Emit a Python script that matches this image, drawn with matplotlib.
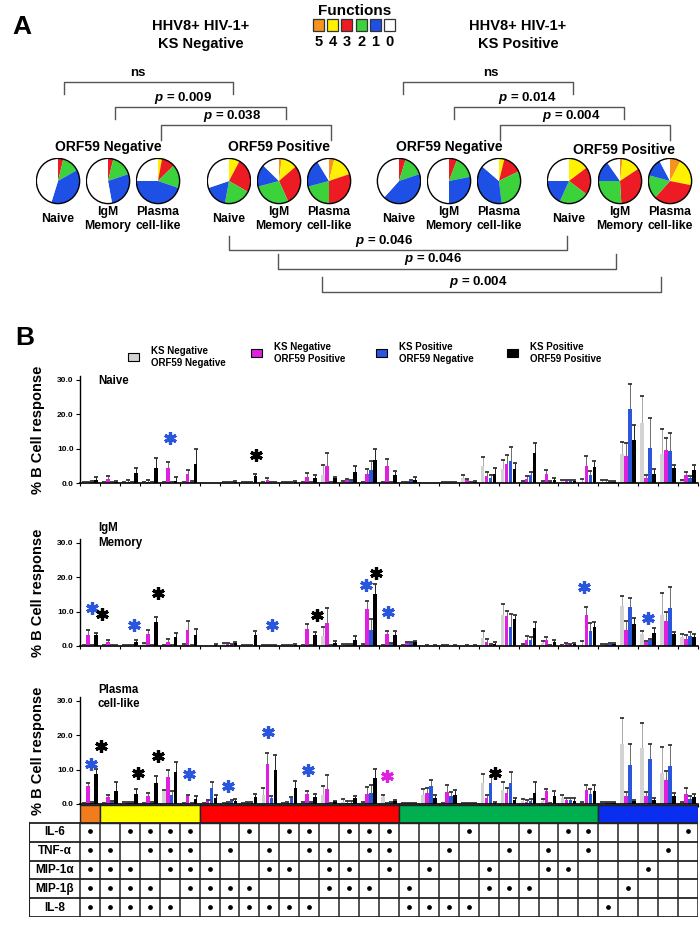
import numpy as np
import matplotlib
matplotlib.use("Agg")
import matplotlib.pyplot as plt
import matplotlib.font_manager as fm
from matplotlib.patches import Rectangle, Circle

names = {f.name for f in fm.fontManager.ttflist}
base = 'Liberation Sans Narrow' if 'Liberation Sans Narrow' in names else 'Liberation Sans'
plt.rcParams['font.family'] = [base, 'DejaVu Sans']
plt.rcParams['font.weight'] = 'bold'
plt.rcParams['mathtext.fontset'] = 'custom'
plt.rcParams['mathtext.it'] = base + ':italic:bold'
plt.rcParams['mathtext.rm'] = base + ':bold'

# ---------------- data ----------------
func_levels = ['5', '4', '3', '2', '1', '0']
func_colors = ['#F7941D', '#FFF200', '#ED1C24', '#3CD23C', '#1E50E6', '#FFFFFF']
bar_func_colors = {5: '#F07C1E', 4: '#FFFF00', 3: '#FF0000', 2: '#00B050', 1: '#0A2EF0'}

cell_types = ['Naive', 'IgM\nMemory', 'Plasma\ncell-like']
# pie fractions, order of functions 5,4,3,2,1,0
ksneg_orfneg = [[0, 0, 0.04, 0.13, 0.38, 0.45],
                [0, 0, 0.04, 0.16, 0.27, 0.53],
                [0, 0.03, 0.10, 0.17, 0.45, 0.25]]
ksneg_orfpos = [[0, 0.08, 0.25, 0.20, 0.17, 0.30],
                [0.02, 0.12, 0.29, 0.28, 0.16, 0.13],
                [0.04, 0.16, 0.30, 0.21, 0.20, 0.09]]
kspos_orfneg = [[0, 0, 0.05, 0.15, 0.42, 0.38],
                [0, 0, 0.06, 0.16, 0.28, 0.50],
                [0, 0.04, 0.14, 0.30, 0.38, 0.14]]
kspos_orfpos = [[0, 0.15, 0.20, 0.22, 0.18, 0.25],
                [0.02, 0.14, 0.33, 0.26, 0.15, 0.10],
                [0.08, 0.20, 0.34, 0.17, 0.13, 0.08]]

series_names = ['KS Negative\nORF59 Negative', 'KS Negative\nORF59 Positive',
                'KS Positive\nORF59 Negative', 'KS Positive\nORF59 Positive']
series_colors = ['#D3D3D3', '#E020E0', '#2A55DD', '#000000']
err_colors = ['#9A9A9A', '#555555', '#555555', '#000000']

# Naive
naive_grey = [0.1,0.1,0.1,0.1,0.1,0.1,0.0,0.1,0.1,0.1,0.2,0.1,2.4,0.3,0.2,0.2,0.1,0.0,0.1,1.4,4.8,4.0,0.2,0.3,0.5,0.3,0.2,8.5,17.3,8.5,0.5]
naive_mag  = [0.1,1.1,0.3,0.3,4.4,2.6,0.0,0.1,0.2,1.0,0.2,1.6,5.0,0.8,2.5,5.0,0.2,0.0,0.1,0.9,1.9,5.5,1.3,2.6,0.5,5.0,0.2,7.8,1.5,9.5,2.2]
naive_blue = [0.3,0.1,0.2,0.1,0.1,0.3,0.0,0.1,0.2,0.1,0.1,0.1,0.1,0.6,3.8,0.1,0.6,0.0,0.2,0.2,1.5,6.3,2.4,0.3,0.5,2.2,0.3,21.4,10.2,9.4,1.5]
naive_blk  = [1.0,0.3,2.8,4.4,0.7,5.5,0.0,0.2,1.9,0.1,0.2,1.5,1.4,3.1,6.8,2.2,1.0,0.0,0.1,0.3,2.7,4.0,8.6,0.9,0.7,4.6,0.3,12.4,2.5,4.3,3.8]
naive_grey_err = [0.2,0.2,0.2,0.2,0.2,0.2,0,0.2,0.2,0.2,0.2,0.2,2.7,0.3,0.2,0.2,0.2,0,0.2,1.0,2.7,2.8,0.3,0.3,0.3,0.9,0.6,3.5,7.9,7.1,0.3]
naive_mag_err  = [0.2,0.8,0.6,0.6,1.6,1.2,0,0.2,0.2,0.4,0.2,1.2,3.6,0.5,1.7,2.0,0.2,0,0.2,0.3,1.3,2.5,0.7,1.1,0.3,2.9,0.6,3.7,0.9,3.5,1.0]
naive_blue_err = [0.2,0.2,0.2,0.2,0.2,0.2,0,0.2,0.2,0.2,0.2,0.2,0.2,0.3,2.6,0.2,0.3,0,0.2,0.2,0.9,4.0,0.8,0.3,0.3,1.4,0.3,7.3,8.6,5.2,0.6]
naive_blk_err  = [0.7,0.3,1.5,2.8,0.9,4.4,0,0.3,0.8,0.2,0.3,0.9,0.3,1.7,3.1,1.4,0.6,0,0.2,0.3,1.6,1.7,3.1,0.5,0.3,1.7,0.3,4.4,1.7,1.0,1.3]

# IgM Memory
igm_grey = [0.1,0.1,0.1,0.7,0.1,0.3,0.0,0.5,0.1,0.1,0.1,0.1,2.9,0.3,0.3,0.1,0.2,0.0,0.1,0.0,2.3,9.1,0.3,0.8,0.1,0.3,0.2,11.5,3.5,8.9,2.6]
igm_mag  = [3.3,1.1,0.1,3.5,1.3,4.5,0.0,0.5,0.2,0.1,0.2,5.0,6.6,0.3,10.6,3.5,0.8,0.1,0.1,0.1,1.3,8.6,1.7,1.6,0.5,8.9,0.3,4.5,1.2,7.3,1.9]
igm_blue = [0.1,0.1,0.1,0.2,0.2,0.1,0.0,0.3,0.1,0.1,0.1,0.1,0.1,0.3,4.5,0.5,0.8,0.0,0.0,0.0,0.3,5.5,1.7,0.2,0.3,4.3,0.5,11.2,1.6,11.0,3.0]
igm_blk  = [3.1,0.1,1.3,7.1,2.6,3.1,0.3,0.8,3.1,0.2,0.4,3.2,1.0,1.6,15.2,3.1,1.1,0.1,0.1,0.1,0.7,7.7,5.1,1.2,0.6,5.5,0.6,6.4,3.8,3.4,2.5]
igm_grey_err = [0.2,0.2,0.2,0.3,0.2,0.3,0,0.3,0.2,0.2,0.2,0.2,2.6,0.3,0.3,0.2,0.2,0,0.2,0,2.0,3.0,0.3,0.7,0.2,1.2,0.3,3.0,0.8,6.5,1.0]
igm_mag_err  = [1.2,0.6,0.2,1.0,0.7,2.7,0,0.3,0.2,0.2,0.2,1.5,4.5,0.3,2.5,0.8,0.4,0.2,0.2,0.2,0.7,1.5,1.2,1.0,0.3,2.3,0.3,2.7,0.3,2.7,1.4]
igm_blue_err = [0.2,0.2,0.2,0.2,0.2,0.2,0,0.3,0.2,0.2,0.2,0.2,0.2,0.3,3.2,0.3,0.5,0,0,0,0.3,3.7,1.0,0.2,0.3,2.5,0.3,2.8,0.4,6.1,1.1]
igm_blk_err  = [0.8,0.2,0.3,1.4,1.3,1.8,0.3,0.4,1.2,0.2,0.3,0.8,0.5,1.4,2.7,1.2,0.3,0.2,0.2,0.2,0.4,1.2,2.0,0.4,0.4,1.6,0.3,1.7,1.3,0.8,0.9]

# Plasma cell-like
pl_grey = [0.1,0.1,0.3,0.1,3.7,0.2,0.1,0.2,0.1,2.6,0.2,0.3,2.6,0.6,0.3,2.0,0.2,2.7,0.2,0.2,6.1,4.2,0.8,0.8,1.8,0.3,0.3,17.5,16.3,9.1,0.3]
pl_mag  = [5.2,2.0,0.4,2.2,7.9,2.3,0.9,0.4,0.3,11.6,0.3,3.0,4.4,0.3,3.0,0.2,0.2,3.3,3.4,0.2,1.7,3.3,0.7,3.7,1.2,4.1,0.3,2.4,2.4,6.9,2.8]
pl_blue = [0.3,0.5,0.4,0.3,2.5,0.2,4.5,0.8,0.3,1.7,1.6,0.3,0.2,0.4,3.3,0.3,0.2,5.3,2.3,0.2,6.0,6.1,1.0,0.2,1.2,2.9,0.3,11.2,12.9,10.9,1.4]
pl_blk  = [8.8,3.7,2.9,6.0,9.4,1.5,1.7,1.0,1.9,10.0,4.5,2.1,0.8,1.7,7.5,0.8,0.2,1.8,2.7,0.2,0.3,1.2,3.3,2.2,1.0,3.7,0.3,0.8,1.2,2.4,2.1]
pl_grey_err = [0.2,0.2,0.3,0.2,0.5,0.2,0.2,0.2,0.2,1.9,0.2,0.3,2.7,0.8,0.3,0.7,0.2,1.6,0.2,0.2,2.7,2.1,0.6,0.6,0.9,0.2,0.2,7.4,7.2,7.4,0.3]
pl_mag_err  = [1.0,0.7,0.3,0.9,2.0,0.4,0.2,0.3,0.3,3.1,0.3,0.7,3.9,0.6,1.8,0.2,0.2,1.3,2.1,0.2,0.8,1.3,0.6,0.6,0.4,1.5,0.2,1.0,1.0,2.8,1.7]
pl_blue_err = [0.3,0.3,0.3,0.3,1.3,0.2,2.0,0.3,0.3,0.6,0.4,0.3,0.2,0.4,2.2,0.3,0.2,1.8,1.2,0.2,1.7,3.2,0.4,0.2,0.4,1.5,0.2,6.1,4.5,6.1,0.8]
pl_blk_err  = [1.4,2.6,1.4,2.0,2.9,0.7,0.8,0.5,0.9,4.2,2.1,0.8,0.2,0.6,2.7,0.4,0.2,0.7,1.5,0.2,0.3,0.5,3.1,1.5,0.6,1.9,0.2,0.3,0.6,0.7,0.9]

# significance asterisks: (x position in category units, y value, colour)
naive_stars = [(4.02, 13.0, '#2A55DD'), (8.34, 8.2, '#000000')]
igm_stars = [(0.10, 11.0, '#2A55DD'), (0.61, 9.3, '#000000'), (2.21, 6.0, '#2A55DD'),
             (3.42, 15.5, '#000000'), (9.15, 6.0, '#2A55DD'), (11.41, 9.0, '#000000'),
             (13.87, 17.8, '#2A55DD'), (14.37, 21.3, '#000000'), (14.93, 9.9, '#2A55DD'),
             (24.78, 17.1, '#2A55DD'), (27.99, 8.1, '#2A55DD')]
pl_stars = [(0.05, 11.6, '#2A55DD'), (0.56, 16.8, '#000000'), (2.43, 8.9, '#000000'),
            (3.40, 14.0, '#000000'), (4.98, 8.6, '#2A55DD'), (6.92, 5.2, '#2A55DD'),
            (8.91, 20.9, '#2A55DD'), (10.92, 9.8, '#2A55DD'), (14.88, 8.1, '#E020E0'),
            (20.30, 8.9, '#000000')]

# cytokine combination table
cytokines = ['IL-6', 'TNF-α', 'MIP-1α', 'MIP-1β', 'IL-8']
il6   = [1,0,1,1,1,1, 0,0,1,0,1,1,0,1,1,1, 0,0,0,1,0,0,1,0,1,1, 0,0,0,0,1]
tnf   = [1,1,0,1,1,1, 0,1,0,1,0,1,1,0,1,1, 0,0,1,0,0,1,0,1,0,1, 0,0,0,1,0]
mip1a = [1,1,1,0,1,1, 1,0,0,1,1,0,1,1,0,1, 0,1,0,0,1,0,0,1,1,0, 0,0,1,0,0]
mip1b = [1,1,1,1,0,1, 1,1,1,0,0,0,1,1,1,0, 1,0,0,0,1,1,1,0,0,0, 0,1,0,0,0]
il8   = [1,1,1,1,1,0, 1,1,1,1,1,1,0,0,0,0, 1,1,1,1,0,0,0,0,0,0, 1,0,0,0,0]

# ---------------- figure ----------------
W, H = 700, 926
fig = plt.figure(figsize=(W / 100, H / 100), dpi=100)
fig.patch.set_facecolor('white')

def px_axes(left, top, right, bottom, **kw):
    return fig.add_axes([left / W, 1 - bottom / H, (right - left) / W, (bottom - top) / H], **kw)

ov = px_axes(0, 0, W, H)
ov.set_xlim(0, W)
ov.set_ylim(H, 0)
ov.axis('off')

# ---- Panel A ----
ov.text(22, 27, 'A', fontsize=19, fontweight='bold', ha='center', va='center', family=['Liberation Sans', 'DejaVu Sans'])
ov.text(201, 35, 'HHV8+ HIV-1+\nKS Negative', fontsize=10.5, ha='center', va='center', linespacing=1.35)
ov.text(518, 35, 'HHV8+ HIV-1+\nKS Positive', fontsize=10.5, ha='center', va='center', linespacing=1.35)
ov.text(355, 11, 'Functions', fontsize=11, ha='center', va='center')
for i, (lab, col) in enumerate(zip(func_levels, func_colors)):
    x0 = 313 + i * 14.2
    ov.add_patch(Rectangle((x0, 19), 11, 12, facecolor=col, edgecolor='#333333', lw=0.9))
    ov.text(x0 + 5.5, 42, lab, fontsize=10.5, ha='center', va='center')


def ptext(tx, ty, label):
    ov.text(tx, ty, r'$\mathit{p}$' + ' = ' + label, fontsize=9.5, ha='center', va='center')


def bracket(x1, x2, y, y2, label, tx, ty):
    ov.plot([x1, x1, x2, x2], [y2, y, y, y2], color='#555555', lw=1.0)
    if label == 'ns':
        ov.text(tx, ty, 'ns', fontsize=9.5, ha='center', va='center')
    else:
        ptext(tx, ty, label)

# top brackets (ticks hang down)
bracket(64, 233, 82, 94, 'ns', 138, 73)
bracket(115, 286, 107, 119, '0.009', 183, 98)
bracket(161, 331, 125, 140, '0.038', 232, 116)
bracket(403, 573, 82, 94, 'ns', 491, 73)
bracket(454, 624, 107, 119, '0.014', 527, 98)
bracket(500, 670, 125, 140, '0.004', 571, 116)
# bottom brackets (ticks rise up)
bracket(229, 567, 250, 236, '0.046', 384, 241)
bracket(278, 616, 269, 254, '0.046', 433, 259)
bracket(322, 661, 292, 277, '0.004', 478, 282)

ov.text(108, 147, 'ORF59 Negative', fontsize=10, ha='center', va='center')
ov.text(279, 147, 'ORF59 Positive', fontsize=10, ha='center', va='center')
ov.text(449, 147, 'ORF59 Negative', fontsize=10, ha='center', va='center')
ov.text(624, 150, 'ORF59 Positive', fontsize=10, ha='center', va='center')

pie_groups = [ksneg_orfneg, ksneg_orfpos, kspos_orfneg, kspos_orfpos]
pie_x = [[58, 108, 158], [229, 279, 329], [399, 449, 499], [569, 620, 670]]
pie_cy = 181
for grp, xs in zip(pie_groups, pie_x):
    for fr, cx, lab in zip(grp, xs, cell_types):
        pa = px_axes(cx - 22.5, pie_cy - 23.5, cx + 22.5, pie_cy + 23.5)
        pa.pie(fr, colors=func_colors, startangle=90, counterclock=False,
               wedgeprops=dict(linewidth=0))
        pa.add_patch(Circle((0, 0), 1.0, fill=False, edgecolor='black', lw=1.0))
        pa.set_aspect('auto')
        pa.set_xlim(-1.04, 1.04)
        pa.set_ylim(-1.04, 1.04)
        pa.axis('off')
        ov.text(cx, 219, lab, fontsize=8.8, ha='center', va='center', linespacing=1.15)

# ---- Panel B ----
ov.text(25, 338, 'B', fontsize=19, fontweight='bold', ha='center', va='center', family=['Liberation Sans', 'DejaVu Sans'])
leg_x = [128, 251, 376, 507]
leg_y = [357, 353, 353, 353]
for lx, ly, col, name in zip(leg_x, leg_y, series_colors, series_names):
    ov.add_patch(Rectangle((lx, ly - 4), 11, 8, facecolor=col, edgecolor='black', lw=0.8))
    ov.text(lx + 23, ly, name, fontsize=7, ha='left', va='center', linespacing=1.25,
            family=['Liberation Sans', 'DejaVu Sans'])

panels = [
    ('Naive', 483, [naive_grey, naive_mag, naive_blue, naive_blk],
     [naive_grey_err, naive_mag_err, naive_blue_err, naive_blk_err], naive_stars, 29.5),
    ('IgM\nMemory', 646, [igm_grey, igm_mag, igm_blue, igm_blk],
     [igm_grey_err, igm_mag_err, igm_blue_err, igm_blk_err], igm_stars, 32.0),
    ('Plasma\ncell-like', 804, [pl_grey, pl_mag, pl_blue, pl_blk],
     [pl_grey_err, pl_mag_err, pl_blue_err, pl_blk_err], pl_stars, 31.0),
]
ncat = len(il6)
x = np.arange(ncat)
offsets = [-0.3, -0.1, 0.1, 0.3]
bw = 0.18
ppu = 3.45
AX_L, AX_R = 80, 698
ymax = 31
for title, y0, vals, errs, stars, ty in panels:
    ax = px_axes(AX_L, y0 - ymax * ppu, AX_R, y0)
    for s in range(4):
        v = np.array(vals[s], dtype=float)
        e = np.array(errs[s], dtype=float)
        ax.bar(x + offsets[s], v, bw, color=series_colors[s], linewidth=0, zorder=2)
        m = e > 0
        ax.vlines(x[m] + offsets[s], v[m], v[m] + e[m], color=err_colors[s], lw=0.6, zorder=1)
        ax.plot(x[m] + offsets[s], v[m] + e[m], ls='none', marker='_', ms=2.2,
                mew=1.2, color='#222222', zorder=3)
    for sx, sy, sc in stars:
        ax.plot(sx, sy, marker=(6, 2, 0), ms=9, mew=2.3, color=sc, ls='none', zorder=4, clip_on=False)
    ax.set_xlim(-0.5, ncat - 0.5)
    ax.set_ylim(0, ymax)
    ax.set_yticks([0, 10, 20, 30])
    ax.set_yticklabels(['0.0', '10.0', '20.0', '30.0'], fontsize=6)
    ax.set_xticks(np.arange(ncat + 1) - 0.5)
    ax.set_xticklabels([])
    ax.tick_params(axis='x', direction='out', length=2.5, width=0.8)
    ax.tick_params(axis='y', direction='out', length=3, width=0.8, pad=1.5)
    for sp in ['top', 'right']:
        ax.spines[sp].set_visible(False)
    ax.spines['left'].set_linewidth(1.0)
    ax.spines['bottom'].set_linewidth(1.2)
    ax.set_facecolor('none')
    ax.text(0.4, ty, title, fontsize=8.3, ha='left', va='center', linespacing=1.25, clip_on=False)
    ax.set_ylabel('% B Cell response', fontsize=10.5, fontweight='bold',
                  family=['Liberation Sans', 'DejaVu Sans'])
    ax.yaxis.set_label_coords(-(AX_L - 45) / (AX_R - AX_L), 0.5)

# ---- table ----
rows = [il6, tnf, mip1a, mip1b, il8]
nfunc = np.sum(np.array(rows), axis=0)
cw = (AX_R - AX_L) / ncat
TB_L = 29
tx_left = -0.5 - (AX_L - TB_L) / cw
bar_h = 0.95
tab = px_axes(TB_L, 805, AX_R, 917)
tab.set_xlim(tx_left, ncat - 0.5)
tab.set_ylim(len(rows), -bar_h)
tab.axis('off')
start = 0
for i in range(1, ncat + 1):
    if i == ncat or nfunc[i] != nfunc[start]:
        tab.add_patch(Rectangle((start - 0.5, -bar_h), i - start, bar_h,
                                facecolor=bar_func_colors[int(nfunc[start])],
                                edgecolor='#222222', lw=1.0))
        start = i
for r in range(len(rows) + 1):
    tab.plot([tx_left, ncat - 0.5], [r, r], color='#222222', lw=1.3)
for c in range(ncat + 1):
    tab.plot([c - 0.5, c - 0.5], [0, len(rows)], color='#222222', lw=1.1)
tab.plot([tx_left, tx_left], [0, len(rows)], color='#222222', lw=1.5)
for r, (name, row) in enumerate(zip(cytokines, rows)):
    tab.text((tx_left - 0.5) / 2, r + 0.5, name, fontsize=8.5, ha='center', va='center')
    cols = np.nonzero(np.array(row))[0]
    tab.plot(cols, np.full(len(cols), r + 0.45), ls='none', marker='o', ms=2.4, color='black')

fig.savefig('out.png', dpi=100)
